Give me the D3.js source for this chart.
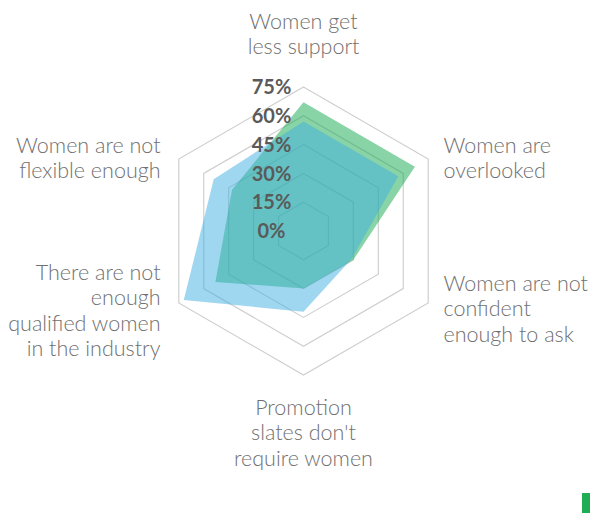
<!DOCTYPE html>
<html>
<head>
<meta charset="utf-8">
<script src="https://cdn.jsdelivr.net/npm/d3@7"></script>
<style>
  html, body { margin: 0; padding: 0; background: #fff; }
  svg { display: block; }
</style>
</head>
<body>
<svg id="chart" width="590" height="514"></svg>
<script>
// ---- data ----
const categories = [
  "Women get\nless support",
  "Women are\noverlooked",
  "Women are not\nconfident\nenough to ask",
  "Promotion\nslates don't\nrequire women",
  "There are not\nenough\nqualified women\nin the industry",
  "Women are not\nflexible enough"
];
const greenValues = [67, 67, 30, 30, 53, 43];
const blueValues  = [57, 57, 29, 42, 72, 54];
const tickValues  = [0, 15, 30, 45, 60, 75];
const tickLabels  = ["0%", "15%", "30%", "45%", "60%", "75%"];

// ---- layout ----
const svg = d3.select("#chart");
const cx = 303.5, cy = 231;
const R = 144;
const r = d3.scaleLinear().domain([0, 75]).range([0, R]);
const angle = d3.scalePoint().domain(d3.range(categories.length))
  .range([0, 2 * Math.PI * (categories.length - 1) / categories.length]);

const g = svg.append("g").attr("transform", `translate(${cx},${cy})`);

const radial = d3.lineRadial()
  .angle((d, i) => angle(i))
  .radius(d => r(d))
  .curve(d3.curveLinearClosed);

// grid rings
g.append("g").selectAll("path")
  .data(tickValues.filter(v => v > 0))
  .join("path")
  .attr("d", v => radial(categories.map(() => v)))
  .attr("fill", "none")
  .attr("stroke", "#cfcfcf")
  .attr("stroke-width", 1.2);

// series
const series = [
  { values: greenValues, color: "rgb(18,170,78)" },
  { values: blueValues,  color: "rgb(66,176,226)" }
];
g.append("g").selectAll("path")
  .data(series)
  .join("path")
  .attr("d", s => radial(s.values))
  .attr("fill", s => s.color)
  .attr("fill-opacity", 0.5)
  .attr("stroke", "none");

// tick labels
g.append("g").selectAll("text")
  .data(tickValues)
  .join("text")
  .attr("x", -32)
  .attr("y", v => -r(v))
  .attr("dy", "0.36em")
  .attr("text-anchor", "middle")
  .attr("font-family", "Lato, 'Open Sans', sans-serif")
  .attr("font-weight", 700)
  .attr("font-size", 20)
  .attr("fill", "#5a5a5a")
  .text((v, i) => tickLabels[i]);

// category labels
const labelPos = [
  { x: 0,    y: -210, anchor: "middle" },
  { x: 140,  y: -86,  anchor: "start" },
  { x: 140,  y: 52,   anchor: "start" },
  { x: 0,    y: 176,  anchor: "middle" },
  { x: -143, y: 41,   anchor: "end" },
  { x: -143, y: -86,  anchor: "end" }
];
const lineH = 25.5;
const labels = g.append("g").selectAll("text")
  .data(categories)
  .join("text")
  .attr("text-anchor", (d, i) => labelPos[i].anchor)
  .attr("font-family", "Lato, 'Open Sans', sans-serif")
  .attr("font-weight", 300)
  .attr("font-size", 21.5)
  .attr("fill", "#707070");
labels.each(function(d, i) {
  const t = d3.select(this);
  d.split("\n").forEach((line, k) => {
    t.append("tspan")
      .attr("x", labelPos[i].x)
      .attr("y", labelPos[i].y + k * lineH)
      .attr("dy", "0.35em")
      .text(line);
  });
});

// small brand mark bottom right
svg.append("rect")
  .attr("x", 582).attr("y", 493)
  .attr("width", 8).attr("height", 20)
  .attr("fill", "#1fae55");
</script>
</body>
</html>
